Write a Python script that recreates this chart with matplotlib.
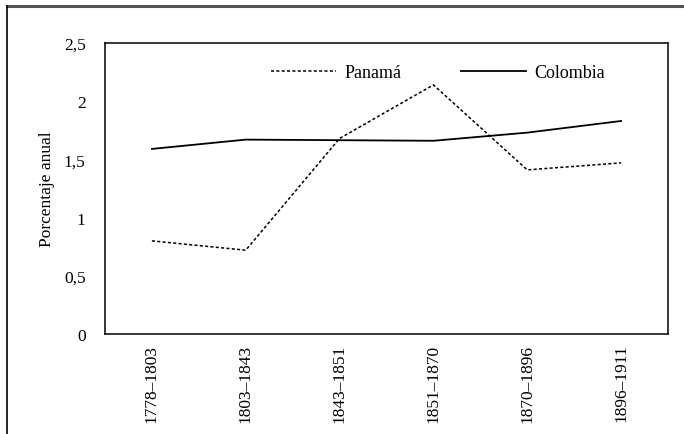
import matplotlib.pyplot as plt
from matplotlib.lines import Line2D

# Datos
periodos = ['1778-1803', '1803-1843', '1843-1851', '1851-1870', '1870-1896', '1896-1911']
panama = [0.80, 0.72, 1.68, 2.14, 1.41, 1.47]
colombia = [1.59, 1.67, 1.665, 1.66, 1.73, 1.83]

plt.rcParams['font.family'] = ['Liberation Serif', 'DejaVu Serif']

fig = plt.figure(figsize=(6.84, 4.35), dpi=100)
ax = fig.add_axes([105 / 684, 1 - 335 / 435, 563 / 684, 291 / 435])

x = range(len(periodos))
ax.plot(x, panama, c='black', lw=1.1, ls=(0, (2, 1.5)), label='Panamá')
ax.plot(x, colombia, c='black', lw=1.3, label='Colombia')

ax.set_xlim(-0.5, len(periodos) - 0.5)
ax.set_ylim(0, 2.5)
ax.set_yticks([0, 0.5, 1, 1.5, 2, 2.5])
ax.set_yticklabels(['0', '0,5', '1', '1,5', '2', '2,5'])
ax.set_xticks(list(x))
ax.set_xticklabels([p.replace('-', '–') for p in periodos], rotation=90)
ax.tick_params(axis='both', length=0, labelsize=12.5)
ax.tick_params(axis='y', pad=14)
ax.tick_params(axis='x', pad=7)
ax.set_ylabel('Porcentaje anual', fontsize=12.5, labelpad=6)

for s in ax.spines.values():
    s.set_linewidth(1.1)

ax.legend(loc='upper right', ncol=2, frameon=False, fontsize=13,
          handlelength=3.6, handletextpad=0.45, columnspacing=3.3,
          bbox_to_anchor=(0.916, 0.982))

# Marco exterior
fig.add_artist(Line2D([7 / 684, 1], [1 - 7 / 435, 1 - 7 / 435], color='#555555', lw=2.2))
fig.add_artist(Line2D([7 / 684, 7 / 684], [0, 1 - 7 / 435], color='black', lw=1.2))

fig.savefig('out.png', dpi=100)
